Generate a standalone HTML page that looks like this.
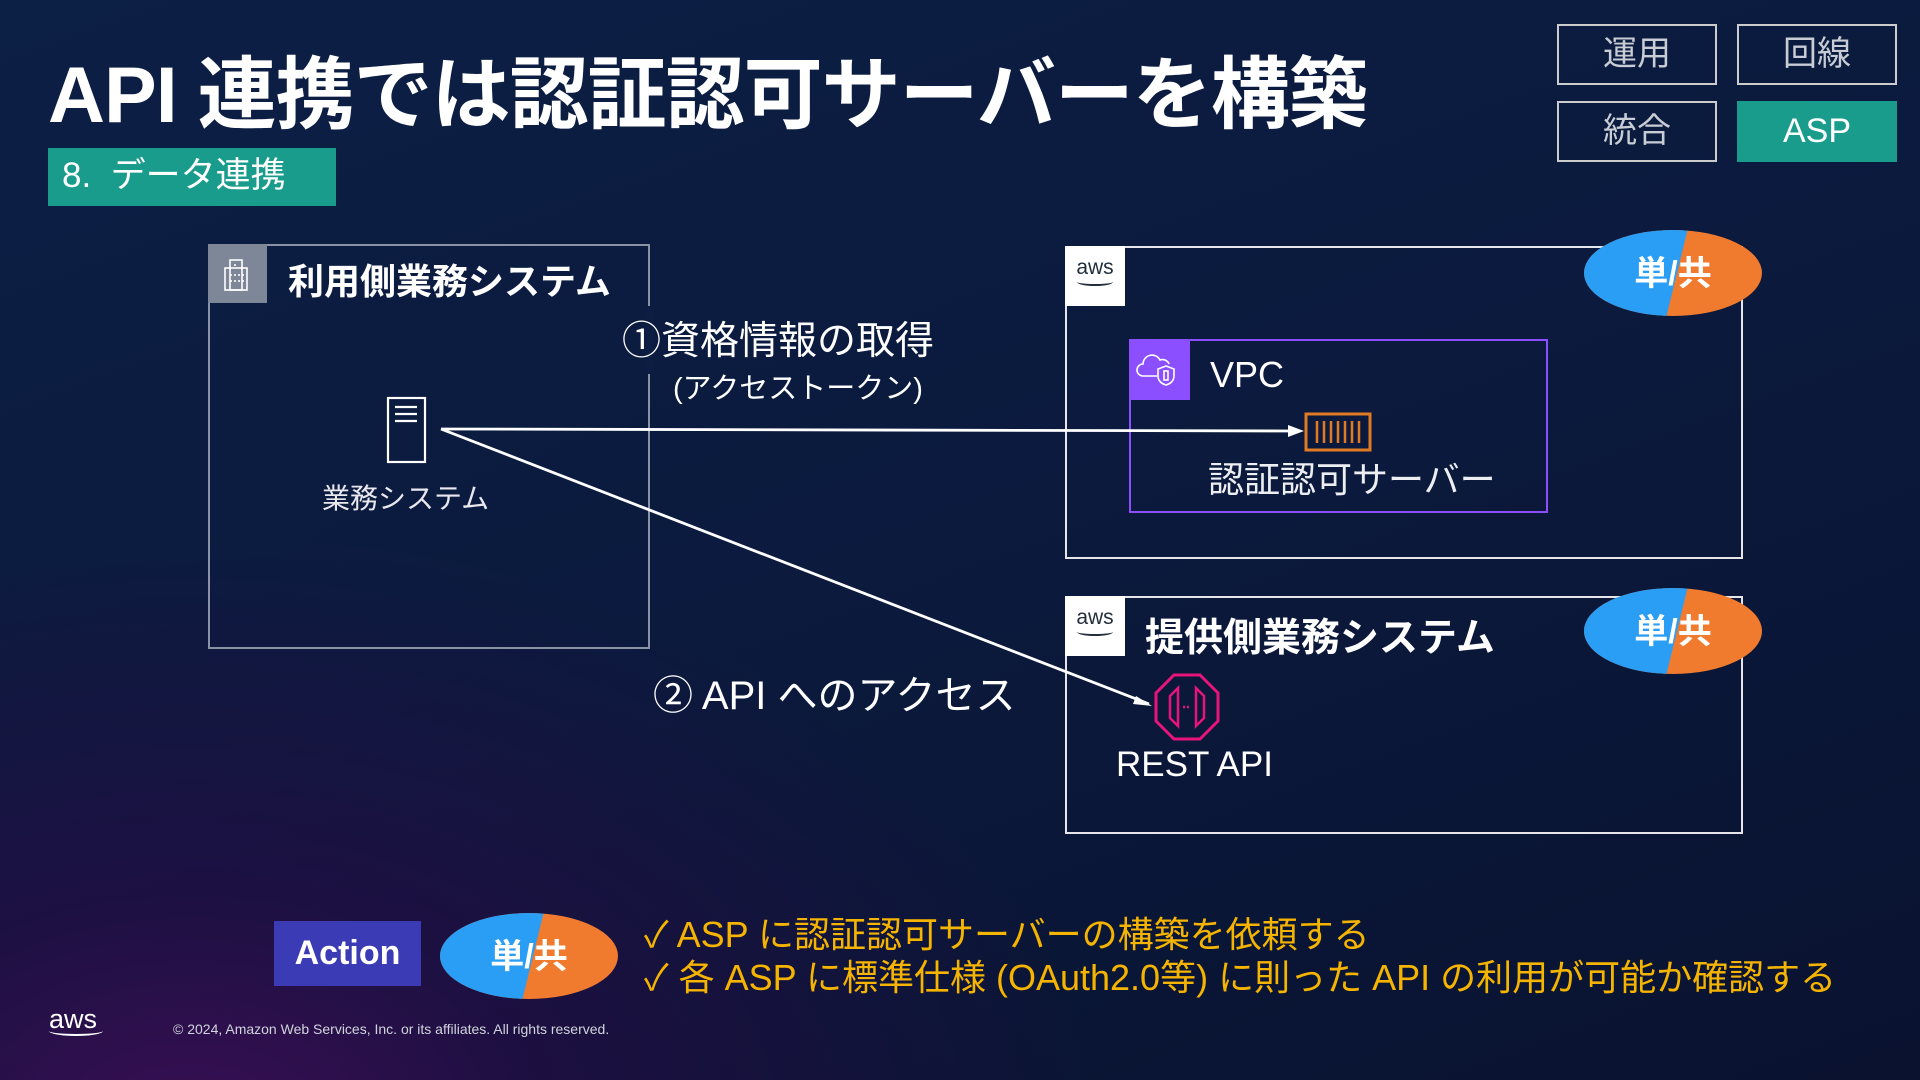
<!DOCTYPE html>
<html><head><meta charset="utf-8"><style>
*{margin:0;padding:0;box-sizing:border-box}
body{width:1920px;height:1080px;overflow:hidden;position:relative;font-family:"Liberation Sans","Noto Sans CJK JP",sans-serif;color:#fff;
background:radial-gradient(ellipse 900px 600px at 10% 105%,#3a0f55 0%,rgba(40,10,70,0.6) 40%,rgba(0,0,0,0) 100%),linear-gradient(160deg,#0c1f45 0%,#0b1a3d 50%,#0a1230 100%);}
.a{position:absolute}
.t{white-space:nowrap}
.box{position:absolute;border:2px solid #fff}
.tag{position:absolute;border:2px solid #fff;background:transparent;font-size:34px;color:#c8ccd4;text-align:center;line-height:56px}
</style></head><body>
<div class="a t" style="left:48px;top:30px;font-size:79px;font-weight:bold;letter-spacing:-1px">API 連携では認証認可サーバーを構築</div>
<div class="a t" style="left:48px;top:148px;width:288px;height:58px;background:#1a9c8c;font-size:35px;line-height:56px;padding-left:14px">8.&nbsp; データ連携</div>

<div class="tag" style="left:1557px;top:24px;width:160px;height:61px;border-color:#ccc">運用</div>
<div class="tag" style="left:1737px;top:24px;width:160px;height:61px;border-color:#ccc">回線</div>
<div class="tag" style="left:1557px;top:101px;width:160px;height:61px;border-color:#ccc">統合</div>
<div class="tag" style="left:1737px;top:101px;width:160px;height:61px;background:#1a9c8c;border-color:#1a9c8c;color:#fff">ASP</div>

<div class="box" style="left:208px;top:244px;width:442px;height:405px;border-color:#8a93a6"></div>
<div class="a" style="left:646px;top:306px;width:8px;height:68px;background:#0c1c42"></div>
<div class="a" style="left:208px;top:244px;width:59px;height:59px;background:#7d8798">
<svg width="59" height="59"><g fill="none" stroke="#fff" stroke-width="1.6"><rect x="22" y="16" width="12" height="30"/><rect x="17" y="24" width="22" height="22"/><path d="M23 30v2M27 30v2M31 30v2M35 30v2M23 36v2M27 36v2M31 36v2M35 36v2M27 20v2"/></g></svg></div>
<div class="a t" style="left:288px;top:253px;font-size:36px;font-weight:bold">利用側業務システム</div>
<svg class="a" style="left:385px;top:395px" width="44" height="70"><g fill="none" stroke="#fff" stroke-width="2.2"><rect x="3" y="3" width="37" height="64"/><path d="M10 12h22M10 19h22M10 26h22"/></g></svg>
<div class="a t" style="left:322px;top:477px;font-size:28px;color:#e8e8ee">業務システム</div>

<div class="a t" style="left:622px;top:310px;font-size:39px">①資格情報の取得</div>
<div class="a t" style="left:673px;top:365px;font-size:29px">(アクセストークン)</div>
<div class="a t" style="left:653px;top:663px;font-size:40px">② API へのアクセス</div>

<div class="box" style="left:1065px;top:246px;width:678px;height:313px;border-color:#e6e6ea"></div>
<div class="a" style="left:1065px;top:246px;width:60px;height:60px;background:#fff;color:#232f3e;text-align:center;font-size:21px;line-height:20px;padding-top:12px">aws<div style="width:36px;height:8px;margin:0 auto;border-bottom:2px solid #232f3e;border-radius:0 0 50% 50%"></div></div>
<div class="box" style="left:1129px;top:339px;width:419px;height:174px;border-color:#8c4fff"></div>
<div class="a" style="left:1129px;top:339px;width:61px;height:61px;background:#8c4fff">
<svg width="61" height="61"><g fill="none" stroke="#fff" stroke-width="1.6"><path d="M14 37h14M14 37a6 6 0 0 1 0-12a9 9 0 0 1 17-4a7 7 0 0 1 9 4"/><path d="M37 27l8 3v7c0 5-4 8-8 9c-4-1-8-4-8-9v-7z"/><rect x="35" y="32" width="4" height="9"/></g></svg></div>
<div class="a t" style="left:1210px;top:354px;font-size:36px">VPC</div>
<svg class="a" style="left:1304px;top:412px" width="68" height="40"><rect x="2" y="2" width="64" height="36" fill="none" stroke="#e07b24" stroke-width="3"/><g stroke="#e07b24" stroke-width="2.5"><path d="M13 9v22M20 9v22M27 9v22M34 9v22M41 9v22M48 9v22M55 9v22"/></g></svg>
<div class="a t" style="left:1208px;top:451px;font-size:36px;color:#eceef2">認証認可サーバー</div>

<div class="box" style="left:1065px;top:596px;width:678px;height:238px;border-color:#e6e6ea"></div>
<div class="a" style="left:1065px;top:596px;width:60px;height:60px;background:#fff;color:#232f3e;text-align:center;font-size:21px;line-height:20px;padding-top:12px">aws<div style="width:36px;height:8px;margin:0 auto;border-bottom:2px solid #232f3e;border-radius:0 0 50% 50%"></div></div>
<div class="a t" style="left:1145px;top:607px;font-size:39px;font-weight:bold">提供側業務システム</div>
<svg class="a" style="left:1152px;top:672px" width="70" height="70"><polygon points="22,3 48,3 66,21 66,49 48,67 22,67 4,49 4,21" fill="none" stroke="#e7157b" stroke-width="3"/><g fill="none" stroke="#e7157b" stroke-width="2.5"><path d="M26 16v38l-8-8v-22z"/><path d="M44 16v38l8-8v-22z"/><path d="M31 35h8" stroke-dasharray="2 2"/></g></svg>
<div class="a t" style="left:1116px;top:745px;font-size:35px">REST API</div>

<svg class="a" style="left:0;top:0" width="1920" height="1080">
<defs><clipPath id="e"><ellipse cx="0" cy="0" rx="89" ry="43"/></clipPath></defs>
<path d="M441 429L1292 431" stroke="#fff" stroke-width="2.8" fill="none"/>
<path d="M441 429L1149 704" stroke="#fff" stroke-width="2.8" fill="none"/>
<path d="M1136 696L1152 706L1133 704z" fill="#fff"/>
<path d="M1288 425L1304 431L1288 437z" fill="#fff"/>
<g transform="translate(1673,273)"><g clip-path="url(#e)"><rect x="-90" y="-45" width="180" height="90" fill="#f07a2e"/><polygon points="-90,-45 15,-45 -7,45 -90,45" fill="#2a9df4"/></g><text x="0" y="12" text-anchor="middle" font-size="34" font-weight="bold" fill="#fff" font-family="Liberation Sans,Noto Sans CJK JP,sans-serif">単/共</text></g>
<g transform="translate(1673,631)"><g clip-path="url(#e)"><rect x="-90" y="-45" width="180" height="90" fill="#f07a2e"/><polygon points="-90,-45 15,-45 -7,45 -90,45" fill="#2a9df4"/></g><text x="0" y="12" text-anchor="middle" font-size="34" font-weight="bold" fill="#fff" font-family="Liberation Sans,Noto Sans CJK JP,sans-serif">単/共</text></g>
<g transform="translate(529,956)"><g clip-path="url(#e)"><rect x="-90" y="-45" width="180" height="90" fill="#f07a2e"/><polygon points="-90,-45 15,-45 -7,45 -90,45" fill="#2a9df4"/></g><text x="0" y="12" text-anchor="middle" font-size="34" font-weight="bold" fill="#fff" font-family="Liberation Sans,Noto Sans CJK JP,sans-serif">単/共</text></g>
</svg>

<div class="a t" style="left:274px;top:921px;width:147px;height:65px;background:#3b3bb5;font-size:34px;font-weight:bold;text-align:center;line-height:64px">Action</div>
<div class="a t" style="left:644px;top:913px;font-size:36px;color:#f5b400;line-height:43px">✓ ASP に認証認可サーバーの構築を依頼する<br>✓ 各 ASP に標準仕様 (OAuth2.0等) に則った API の利用が可能か確認する</div>
<div class="a t" style="left:49px;top:1006px;font-size:27px;line-height:26px">aws<div style="width:54px;height:10px;border-bottom:2px solid #fff;border-radius:0 0 50% 50%;margin-top:-6px"></div></div>
<div class="a t" style="left:173px;top:1021px;font-size:14px;color:#d0d4dc">© 2024, Amazon Web Services, Inc. or its affiliates. All rights reserved.</div>
</body></html>
